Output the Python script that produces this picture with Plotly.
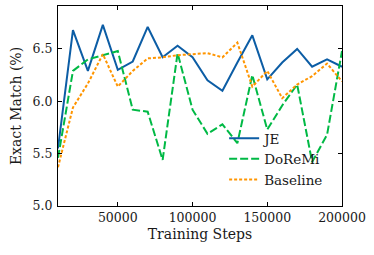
import plotly.graph_objects as go

steps = [10000 * k for k in range(1, 21)]
je = [5.55, 6.68, 6.29, 6.73, 6.30, 6.38, 6.71, 6.42, 6.53, 6.42,
      6.20, 6.10, 6.37, 6.63, 6.21, 6.37, 6.50, 6.33, 6.40, 6.33]
doremi = [5.46, 6.29, 6.40, 6.44, 6.48, 5.92, 5.90, 5.44, 6.46, 5.92,
          5.69, 5.78, 5.60, 6.25, 5.73, 5.96, 6.16, 5.42, 5.68, 6.48]
baseline = [5.37, 5.94, 6.17, 6.45, 6.14, 6.29, 6.41, 6.42, 6.44, 6.45,
            6.46, 6.42, 6.56, 6.14, 6.29, 6.03, 6.16, 6.24, 6.36, 6.19]
x_ticks = [50000, 100000, 150000, 200000]
y_ticks = [5.0, 5.5, 6.0, 6.5]

FONT = "DejaVu Serif"
TICK_FS = 12.5
LABEL_FS = 14
TXT = "#1a1a1a"

fig = go.Figure()
fig.add_trace(go.Scatter(x=steps, y=je, mode="lines", name="JE",
                         line=dict(color="#0C5DA5", width=2)))
fig.add_trace(go.Scatter(x=steps, y=doremi, mode="lines", name="DoReMi",
                         line=dict(color="#00B945", width=2, dash="8px,3px")))
fig.add_trace(go.Scatter(x=steps, y=baseline, mode="lines", name="Baseline",
                         line=dict(color="#FF9500", width=2, dash="3px,2px")))

axis_common = dict(showgrid=False, zeroline=False, showline=True, linecolor="black",
                   linewidth=1, mirror="ticks", ticks="inside", ticklen=4,
                   tickcolor="black", tickwidth=1, automargin=False,
                   tickfont=dict(family=FONT, size=TICK_FS, color=TXT))

fig.update_xaxes(range=[10000, 200000], tickvals=x_ticks,
                 ticktext=[str(v) for v in x_ticks],
                 title=dict(text="Training Steps", font=dict(family=FONT, size=LABEL_FS, color=TXT),
                            standoff=5),
                 **axis_common)
fig.update_yaxes(range=[5.0, 6.91], tickvals=y_ticks,
                 ticktext=[f"{v:.1f}" for v in y_ticks],
                 title=dict(text="Exact Match (%)", font=dict(family=FONT, size=LABEL_FS, color=TXT),
                            standoff=7),
                 ticklabelstandoff=2,
                 **axis_common)

fig.update_layout(
    width=374, height=255,
    margin=dict(l=58, r=32, t=6, b=49),
    paper_bgcolor="white", plot_bgcolor="white",
    font=dict(family=FONT, size=LABEL_FS, color=TXT),
    legend=dict(x=0.585, y=0.415, xanchor="left", yanchor="top",
                bgcolor="rgba(0,0,0,0)", borderwidth=0,
                font=dict(family=FONT, size=13.5, color=TXT),
                itemwidth=30, tracegroupgap=0),
    showlegend=True,
)

fig.write_html("out.html", config={"displayModeBar": False},
               post_script="document.body.style.margin='0';document.body.style.padding='0';")
